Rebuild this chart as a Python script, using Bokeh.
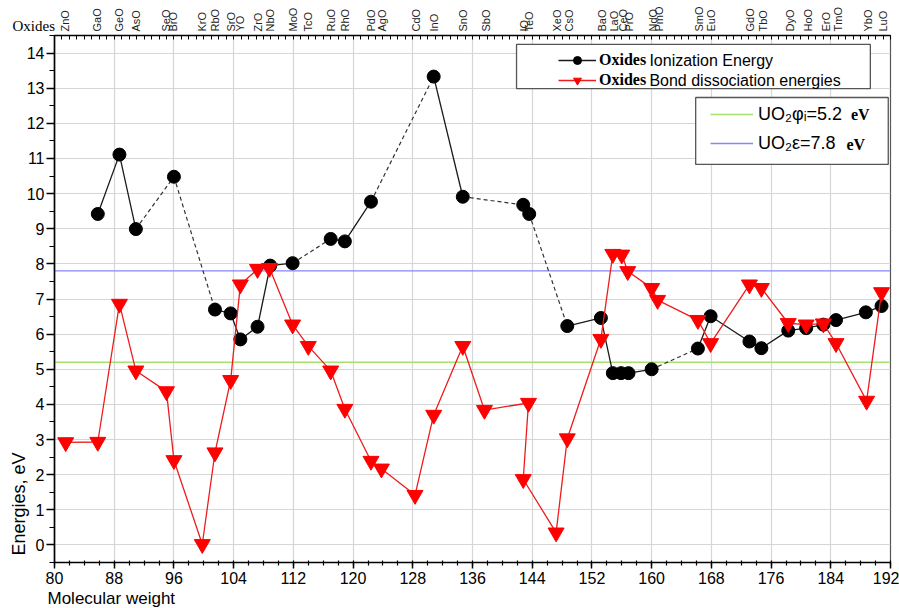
import math
from bokeh.plotting import figure
from bokeh.models import (LinearAxis, FixedTicker, Range1d, Legend, LegendItem,
                          Label, BoxAnnotation, Title)
from bokeh.embed import file_html
from bokeh.resources import INLINE

# ---------------- data ----------------
oxide_names = ["ZnO", "GaO", "GeO", "AsO", "SeO", "BrO", "KrO", "RbO", "SrO", "YO",
               "ZrO", "NbO", "MoO", "TcO", "RuO", "RhO", "PdO", "AgO", "CdO", "InO",
               "SnO", "SbO", "IO", "TeO", "XeO", "CsO", "BaO", "LaO", "CeO", "PrO",
               "NdO", "PmO", "SmO", "EuO", "GdO", "TbO", "DyO", "HoO", "ErO", "TmO",
               "YbO", "LuO"]
oxide_mw = [81.4, 85.7, 88.6, 90.9, 95.0, 95.9, 99.8, 101.5, 103.6, 104.9,
            107.2, 108.9, 111.9, 114.0, 117.1, 118.9, 122.4, 123.9, 128.4, 130.8,
            134.7, 137.8, 142.9, 143.6, 147.3, 148.9, 153.3, 154.9, 156.1, 156.9,
            160.2, 161.0, 166.4, 168.0, 173.2, 174.9, 178.5, 180.9, 183.3, 184.9,
            189.0, 191.0]

# Ionization energy (black circles)
ion_x = [85.8, 88.7, 90.9, 96.0, 101.5, 103.6, 104.9, 107.2, 108.9, 111.9,
         117.0, 118.9, 122.4, 130.8, 134.7, 142.8, 143.6, 148.7, 153.2, 154.8,
         155.9, 156.9, 160.0, 166.2, 167.9, 173.1, 174.7, 178.3, 180.7, 183.0,
         184.7, 188.7, 190.8]
ion_y = [9.42, 11.11, 8.99, 10.48, 6.70, 6.59, 5.85, 6.21, 7.95, 8.02,
         8.71, 8.64, 9.77, 13.33, 9.91, 9.68, 9.42, 6.23, 6.46, 4.89,
         4.89, 4.89, 5.00, 5.59, 6.51, 5.79, 5.60, 6.10, 6.17, 6.27,
         6.40, 6.62, 6.80]
# index i -> segment (i, i+1) is dashed (missing elements in between)
ion_dashed_after = [2, 3, 9, 12, 14, 16, 22]

# Bond dissociation energies (red triangles)
bde_x = [81.5, 85.8, 88.7, 90.9, 95.0, 96.0, 99.8, 101.5, 103.6, 104.9,
         107.2, 108.8, 111.9, 114.0, 117.0, 118.9, 122.4, 123.8, 128.3, 130.8,
         134.7, 137.6, 143.5, 142.8, 147.2, 148.7, 153.2, 154.8, 156.0, 156.8,
         160.0, 160.8, 166.2, 167.9, 173.1, 174.7, 178.3, 180.7, 183.0, 184.7,
         188.8, 190.8]
bde_y = [2.92, 2.93, 6.86, 4.96, 4.37, 2.41, 0.02, 2.63, 4.69, 7.41,
         7.85, 7.88, 6.27, 5.66, 4.96, 3.87, 2.39, 2.17, 1.42, 3.70,
         5.66, 3.84, 4.04, 1.87, 0.35, 3.03, 5.86, 8.28, 8.26, 7.79,
         7.31, 6.97, 6.40, 5.74, 7.41, 7.31, 6.31, 6.27, 6.30, 5.74,
         4.10, 7.19]

UO2_PHI = 5.2
UO2_EPS = 7.8

X_START, X_END = 80, 192
Y_START, Y_END = -0.5, 14.5
x_ticks = list(range(80, 193, 8))
x_minor = list(range(80, 193, 2))
y_ticks = list(range(0, 15))
y_minor = [v / 2 for v in range(-1, 30)]

# ---------------- figure ----------------
p = figure(width=899, height=608, x_range=Range1d(X_START, X_END),
           y_range=Range1d(Y_START, Y_END), output_backend="svg",
           toolbar_location=None, min_border_left=54, min_border_right=9,
           min_border_top=35, min_border_bottom=46)
p.outline_line_color = "#555555"
p.outline_line_width = 1.2
p.background_fill_color = "white"

SANS = "Liberation Sans"
SERIF = "Liberation Serif"

# bottom axis
xa = p.xaxis[0]
xa.ticker = FixedTicker(ticks=x_ticks, minor_ticks=x_minor)
xa.major_tick_out = 6
xa.major_tick_in = 0
xa.minor_tick_out = 3
xa.minor_tick_in = 2
xa.major_label_text_font = SANS
xa.major_label_text_font_size = "16px"
xa.major_label_text_color = "black"
xa.major_label_standoff = 3
xa.axis_line_width = 1.6
xa.axis_line_color = "black"
xa.major_tick_line_width = 1.5
xa.minor_tick_line_width = 1.2

# left axis
ya = p.yaxis[0]
ya.ticker = FixedTicker(ticks=y_ticks, minor_ticks=y_minor)
ya.major_tick_out = 8
ya.major_tick_in = 0
ya.minor_tick_out = 5
ya.minor_tick_in = 0
ya.major_label_text_font = SANS
ya.major_label_text_font_size = "16px"
ya.major_label_text_color = "black"
ya.major_label_standoff = 2
ya.axis_line_width = 1.6
ya.axis_line_color = "black"
ya.major_tick_line_width = 1.3
ya.minor_tick_line_width = 1.2

# top axis with oxide names
top = LinearAxis(ticker=FixedTicker(ticks=oxide_mw, minor_ticks=list(range(80, 193))),
                 major_label_overrides={m: n for m, n in zip(oxide_mw, oxide_names)},
                 major_label_orientation="vertical",
                 major_tick_in=0, major_tick_out=0, minor_tick_in=4, minor_tick_out=0,
                 major_label_text_font=SANS, major_label_text_font_size="11px",
                 major_label_text_color="#222222", major_label_standoff=4,
                 axis_line_width=1.6, axis_line_color="black", minor_tick_line_width=1.0)
p.add_layout(top, "above")


def make_title(text, font, size, align, valign, standoff, offset):
    t = Title(text=text, text_font=font, text_font_size=size, text_font_style="normal",
              text_color="black", align=align, vertical_align=valign, offset=offset)
    try:
        t.standoff = standoff
    except Exception:
        t.standoff = 0
    return t


# axis titles and the corner "Oxides" label (outside the frame, so titles)
p.add_layout(make_title("Oxides", SERIF, "15px", "left", "bottom", -60, -42), "above")
p.add_layout(make_title("Energies, eV", SANS, "18px", "left", "middle", -13, 7), "left")
p.add_layout(make_title("Molecular weight", SANS, "17px", "left", "bottom", 0, -7), "below")

# grids
p.xgrid.ticker = FixedTicker(ticks=x_ticks)
p.ygrid.ticker = FixedTicker(ticks=y_ticks)
p.xgrid.grid_line_color = "#d6d6d6"
p.ygrid.grid_line_color = "#d6d6d6"
p.xgrid.grid_line_width = 1.2
p.ygrid.grid_line_width = 1.2

# reference lines
green = p.line([X_START, X_END], [UO2_PHI, UO2_PHI], line_color="#a8e070", line_width=1.4)
blue = p.line([X_START, X_END], [UO2_EPS, UO2_EPS], line_color="#8585ff", line_width=1.4)

# ionization energy: solid and dashed segments
solid_xs, solid_ys, dash_xs, dash_ys = [], [], [], []
cx, cy = [ion_x[0]], [ion_y[0]]
for i in range(len(ion_x) - 1):
    if i in ion_dashed_after:
        dash_xs.append([ion_x[i], ion_x[i + 1]])
        dash_ys.append([ion_y[i], ion_y[i + 1]])
        solid_xs.append(cx)
        solid_ys.append(cy)
        cx, cy = [ion_x[i + 1]], [ion_y[i + 1]]
    else:
        cx.append(ion_x[i + 1])
        cy.append(ion_y[i + 1])
solid_xs.append(cx)
solid_ys.append(cy)

ion_dash = p.multi_line(dash_xs, dash_ys, line_color="#333333", line_width=1.2, line_dash="4 3")
ion_solid = p.multi_line(solid_xs, solid_ys, line_color="#1a1a1a", line_width=1.3)
ion_pts = p.scatter(ion_x, ion_y, marker="circle", size=13, fill_color="black", line_color="black")

bde_line = p.line(bde_x, bde_y, line_color="#ee1c1c", line_width=1.3)
bde_pts = p.scatter(bde_x, bde_y, marker="inverted_triangle", size=16,
                    fill_color="#ff0000", line_color="#ff0000")

# ---------------- legends ----------------
box1 = BoxAnnotation(left=141.9, right=189.3, top=14.245, bottom=12.99,
                     fill_color="white", fill_alpha=1.0, line_color="#555555",
                     line_width=1.3, line_alpha=1.0)
box2 = BoxAnnotation(left=165.9, right=191.7, top=12.735, bottom=10.83,
                     fill_color="white", fill_alpha=1.0, line_color="#555555",
                     line_width=1.3, line_alpha=1.0)
p.add_layout(box1)
p.add_layout(box2)

leg1 = Legend(items=[LegendItem(label="Oxides", renderers=[ion_solid, ion_pts]),
                     LegendItem(label="Oxides", renderers=[bde_line, bde_pts])],
              location=(504, 472), orientation="vertical", padding=0, margin=0,
              spacing=0, label_height=20, glyph_height=20, glyph_width=38,
              label_standoff=3, label_text_font=SERIF, label_text_font_style="bold",
              label_text_font_size="16px", label_text_color="black",
              border_line_alpha=0, background_fill_alpha=0)
p.add_layout(leg1)

leg2 = Legend(items=[LegendItem(label="UO\u2082\u03c6\u1d62=5.2", renderers=[green]),
                     LegendItem(label="UO\u2082\u03b5=7.8", renderers=[blue])],
              location=(656, 407), orientation="vertical", padding=0, margin=0,
              spacing=5, label_height=24, glyph_height=24, glyph_width=43,
              label_standoff=5, label_text_font=SANS,
              label_text_font_size="18px", label_text_color="black",
              border_line_alpha=0, background_fill_alpha=0)
p.add_layout(leg2)


def add_text(x, y, text, font=SANS, size="16px", style="normal"):
    p.add_layout(Label(x=x, y=y, text=text, text_font=font, text_font_size=size,
                       text_font_style=style, text_align="left", text_baseline="middle",
                       text_color="black"))


add_text(159.7, 13.79, "Ionization Energy", size="16px")
add_text(159.7, 13.22, "Bond dissociation energies", size="16px")
add_text(186.7, 12.24, "eV", font=SERIF, size="16px", style="bold")
add_text(186.1, 11.41, "eV", font=SERIF, size="16px", style="bold")

open("out.html", "w").write(file_html(p, INLINE))
